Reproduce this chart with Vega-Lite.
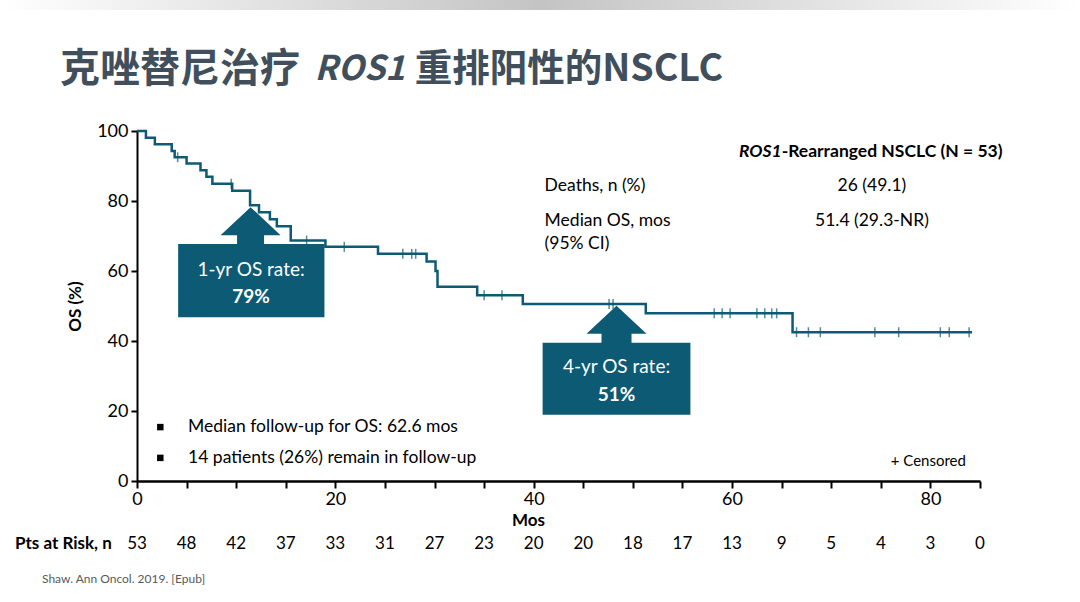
{
  "$schema": "https://vega.github.io/schema/vega-lite/v6.json",
  "width": 843,
  "height": 350,
  "autosize": {"type": "none"},
  "padding": {"left": 137, "top": 131, "right": 100, "bottom": 121},
  "background": "white",
  "config": {"view": {"stroke": null}, "font": "Lato", "text": {"font": "Lato"}},
  "datasets": {
    "km": [
      {"t": 0, "s": 100}, {"t": 0.9, "s": 98.1}, {"t": 1.8, "s": 96.2}, {"t": 3.5, "s": 94.3},
      {"t": 3.8, "s": 92.5}, {"t": 5.0, "s": 90.7}, {"t": 6.4, "s": 88.8}, {"t": 7.0, "s": 86.9},
      {"t": 7.6, "s": 84.9}, {"t": 9.6, "s": 82.9}, {"t": 11.4, "s": 78.8}, {"t": 12.3, "s": 76.8},
      {"t": 13.4, "s": 74.8}, {"t": 14.1, "s": 72.8}, {"t": 15.5, "s": 68.7}, {"t": 19.0, "s": 66.9},
      {"t": 24.3, "s": 64.9}, {"t": 29.2, "s": 62.7}, {"t": 30.1, "s": 60.0}, {"t": 30.3, "s": 55.5},
      {"t": 34.3, "s": 53.1}, {"t": 38.9, "s": 50.6}, {"t": 51.3, "s": 47.9}, {"t": 66.1, "s": 42.5},
      {"t": 84.2, "s": 42.5}
    ],
    "cens": [
      {"t": 4.1, "s": 92.5}, {"t": 9.5, "s": 84.9}, {"t": 17.1, "s": 68.7}, {"t": 20.9, "s": 66.9},
      {"t": 26.8, "s": 64.9}, {"t": 27.7, "s": 64.9}, {"t": 28.1, "s": 64.9}, {"t": 35.0, "s": 53.1},
      {"t": 36.8, "s": 53.1}, {"t": 47.6, "s": 50.6}, {"t": 48.0, "s": 50.6}, {"t": 58.2, "s": 47.9},
      {"t": 59.0, "s": 47.9}, {"t": 59.8, "s": 47.9}, {"t": 62.5, "s": 47.9}, {"t": 63.3, "s": 47.9},
      {"t": 64.0, "s": 47.9}, {"t": 64.5, "s": 47.9}, {"t": 66.5, "s": 42.5}, {"t": 67.7, "s": 42.5},
      {"t": 68.9, "s": 42.5}, {"t": 74.4, "s": 42.5}, {"t": 76.8, "s": 42.5}, {"t": 81.0, "s": 42.5},
      {"t": 81.9, "s": 42.5}, {"t": 83.9, "s": 42.5}
    ],
    "risk": [
      {"t": 0, "n": 53}, {"t": 5, "n": 48}, {"t": 10, "n": 42}, {"t": 15, "n": 37}, {"t": 20, "n": 33},
      {"t": 25, "n": 31}, {"t": 30, "n": 27}, {"t": 35, "n": 23}, {"t": 40, "n": 20}, {"t": 45, "n": 20},
      {"t": 50, "n": 18}, {"t": 55, "n": 17}, {"t": 60, "n": 13}, {"t": 65, "n": 9}, {"t": 70, "n": 5},
      {"t": 75, "n": 4}, {"t": 80, "n": 3}, {"t": 85, "n": 0}
    ]
  },
  "layer": [
    {
      "data": {"name": "km"},
      "mark": {"type": "line", "interpolate": "step-after", "color": "#0c5a73", "strokeWidth": 2.5},
      "encoding": {
        "x": {"field": "t", "type": "quantitative",
          "scale": {"domain": [0, 85], "nice": false, "zero": false},
          "axis": {"title": "Mos", "titleFontSize": 17, "titleFontWeight": "bold", "titleColor": "black",
            "titleX": 391, "titleY": 39, "titleBaseline": "middle",
            "values": [0,5,10,15,20,25,30,35,40,45,50,55,60,65,70,75,80,85],
            "labelExpr": "datum.value % 20 === 0 ? datum.label : ''",
            "labelFontSize": 18, "labelColor": "black", "labelPadding": 2, "labelFlush": false,
            "tickSize": 7, "tickWidth": 2, "tickColor": "black",
            "domainColor": "black", "domainWidth": 2.5, "grid": false}},
        "y": {"field": "s", "type": "quantitative",
          "scale": {"domain": [0, 100], "nice": false},
          "axis": {"title": "OS (%)", "titleFontSize": 17, "titleFontWeight": "bold", "titleColor": "black",
            "titleX": -62, "titleY": 175, "titleAngle": -90, "titleBaseline": "middle", "titleAlign": "center",
            "values": [0,20,40,60,80,100], "labelFontSize": 18, "labelColor": "black", "labelPadding": 3,
            "tickSize": 6, "tickWidth": 2, "tickColor": "black",
            "domainColor": "black", "domainWidth": 2, "grid": false}}
      }
    },
    {
      "data": {"name": "cens"},
      "mark": {"type": "tick", "orient": "vertical", "color": "#0c5a73", "size": 10, "thickness": 1.5},
      "encoding": {
        "x": {"field": "t", "type": "quantitative"},
        "y": {"field": "s", "type": "quantitative"}
      }
    },
    {
      "data": {"values": [{}]},
      "mark": {"type": "rect", "color": {"x1": 0, "y1": 0, "x2": 1, "y2": 0, "gradient": "linear",
        "stops": [{"offset": 0, "color": "#ffffff"}, {"offset": 0.5, "color": "#c4c4c4"}, {"offset": 1, "color": "#ffffff"}]}},
      "encoding": {
        "x": {"datum": -13.8, "type": "quantitative"},
        "x2": {"datum": 95.0},
        "y": {"datum": 137.4, "type": "quantitative"},
        "y2": {"datum": 134.6}
      }
    },
    {
      "data": {"values": [{}]},
      "mark": {"type": "rect", "color": "#0c5a73"},
      "encoding": {
        "x": {"datum": 4.15, "type": "quantitative"},
        "x2": {"datum": 18.9},
        "y": {"datum": 67.7, "type": "quantitative"},
        "y2": {"datum": 46.8}
      }
    },
    {
      "data": {"values": [{}]},
      "mark": {"type": "rect", "color": "#0c5a73"},
      "encoding": {
        "x": {"datum": 40.9, "type": "quantitative"},
        "x2": {"datum": 55.8},
        "y": {"datum": 39.5, "type": "quantitative"},
        "y2": {"datum": 18.9}
      }
    },
    {
      "data": {"values": [{}]},
      "mark": {"type": "point", "filled": true, "opacity": 1, "size": 3600, "color": "#0c5a73", "strokeWidth": 0,
        "shape": "M0,-0.6L1,0.333L0.45,0.333L0.45,0.72L-0.45,0.72L-0.45,0.333L-1,0.333Z"},
      "encoding": {
        "x": {"datum": 11.45, "type": "quantitative"},
        "y": {"datum": 73.1, "type": "quantitative"}
      }
    },
    {
      "data": {"values": [{}]},
      "mark": {"type": "point", "filled": true, "opacity": 1, "size": 3600, "color": "#0c5a73", "strokeWidth": 0,
        "shape": "M0,-0.6L1,0.333L0.5,0.333L0.5,0.72L-0.5,0.72L-0.5,0.333L-1,0.333Z"},
      "encoding": {
        "x": {"datum": 48.35, "type": "quantitative"},
        "y": {"datum": 44.9, "type": "quantitative"}
      }
    },
    {
      "data": {"values": [{}]},
      "mark": {"type": "text", "text": "1-yr OS rate:", "color": "white", "fontSize": 19, "align": "center", "baseline": "middle"},
      "encoding": {"x": {"datum": 11.5, "type": "quantitative"}, "y": {"datum": 60.3, "type": "quantitative"}}
    },
    {
      "data": {"values": [{}]},
      "mark": {"type": "text", "text": "79%", "color": "white", "fontSize": 19, "fontWeight": "bold", "align": "center", "baseline": "middle"},
      "encoding": {"x": {"datum": 11.5, "type": "quantitative"}, "y": {"datum": 52.6, "type": "quantitative"}}
    },
    {
      "data": {"values": [{}]},
      "mark": {"type": "text", "text": "4-yr OS rate:", "color": "white", "fontSize": 19, "align": "center", "baseline": "middle"},
      "encoding": {"x": {"datum": 48.35, "type": "quantitative"}, "y": {"datum": 32.6, "type": "quantitative"}}
    },
    {
      "data": {"values": [{}]},
      "mark": {"type": "text", "text": "51%", "color": "white", "fontSize": 19, "fontWeight": "bold", "align": "center", "baseline": "middle"},
      "encoding": {"x": {"datum": 48.35, "type": "quantitative"}, "y": {"datum": 24.6, "type": "quantitative"}}
    },
    {
      "data": {"values": [{}]},
      "mark": {"type": "text", "text": "ROS1", "color": "black", "fontSize": 17.5, "fontWeight": "bold", "fontStyle": "italic", "align": "right", "baseline": "middle"},
      "encoding": {"x": {"datum": 65.0, "type": "quantitative"}, "y": {"datum": 94.0, "type": "quantitative"}}
    },
    {
      "data": {"values": [{}]},
      "mark": {"type": "text", "text": "-Rearranged NSCLC (N = 53)", "color": "black", "fontSize": 17.5, "fontWeight": "bold", "align": "left", "baseline": "middle"},
      "encoding": {"x": {"datum": 65.0, "type": "quantitative"}, "y": {"datum": 94.0, "type": "quantitative"}}
    },
    {
      "data": {"values": [{"label": "Deaths, n (%)", "v": 84.3}, {"label": "Median OS, mos", "v": 74.3}, {"label": "(95% CI)", "v": 67.7}]},
      "mark": {"type": "text", "color": "black", "fontSize": 17.5, "align": "left", "baseline": "middle"},
      "encoding": {"text": {"field": "label"}, "x": {"datum": 41.1, "type": "quantitative"}, "y": {"field": "v", "type": "quantitative"}}
    },
    {
      "data": {"values": [{"label": "26 (49.1)", "v": 84.3}, {"label": "51.4 (29.3-NR)", "v": 74.3}]},
      "mark": {"type": "text", "color": "black", "fontSize": 17.5, "align": "center", "baseline": "middle"},
      "encoding": {"text": {"field": "label"}, "x": {"datum": 74.1, "type": "quantitative"}, "y": {"field": "v", "type": "quantitative"}}
    },
    {
      "data": {"values": [{"v": 15.4}, {"v": 6.6}]},
      "mark": {"type": "point", "shape": "square", "filled": true, "opacity": 1, "color": "black", "size": 42},
      "encoding": {"x": {"datum": 2.35, "type": "quantitative"}, "y": {"field": "v", "type": "quantitative"}}
    },
    {
      "data": {"values": [{"label": "Median follow-up for OS: 62.6 mos", "v": 15.4}, {"label": "14 patients (26%) remain in follow-up", "v": 6.6}]},
      "mark": {"type": "text", "color": "black", "fontSize": 17.5, "align": "left", "baseline": "middle"},
      "encoding": {"text": {"field": "label"}, "x": {"datum": 5.15, "type": "quantitative"}, "y": {"field": "v", "type": "quantitative"}}
    },
    {
      "data": {"values": [{}]},
      "mark": {"type": "text", "text": "+ Censored", "color": "black", "fontSize": 15, "align": "left", "baseline": "middle"},
      "encoding": {"x": {"datum": 76.0, "type": "quantitative"}, "y": {"datum": 5.7, "type": "quantitative"}}
    },
    {
      "data": {"name": "risk"},
      "mark": {"type": "text", "color": "black", "fontSize": 17, "align": "center", "baseline": "middle"},
      "encoding": {"text": {"field": "n"}, "x": {"field": "t", "type": "quantitative"}, "y": {"datum": -18, "type": "quantitative"}}
    },
    {
      "data": {"values": [{}]},
      "mark": {"type": "text", "text": "Pts at Risk, n", "color": "black", "fontSize": 17, "fontWeight": "bold", "align": "left", "baseline": "middle"},
      "encoding": {"x": {"datum": -12.3, "type": "quantitative"}, "y": {"datum": -18, "type": "quantitative"}}
    },
    {
      "data": {"values": [{}]},
      "mark": {"type": "text", "text": "Shaw. Ann Oncol. 2019. [Epub]", "color": "#595959", "fontSize": 12, "align": "left", "baseline": "middle"},
      "encoding": {"x": {"datum": -9.58, "type": "quantitative"}, "y": {"datum": -28, "type": "quantitative"}}
    },
    {
      "data": {"values": [{}]},
      "mark": {"type": "text", "text": "克唑替尼治疗", "color": "#404f5b", "font": "Noto Sans CJK SC", "fontSize": 40, "fontWeight": "bold", "align": "left", "baseline": "middle"},
      "encoding": {"x": {"datum": -7.76, "type": "quantitative"}, "y": {"datum": 117.5, "type": "quantitative"}}
    },
    {
      "data": {"values": [{}]},
      "mark": {"type": "text", "text": "ROS1", "color": "#404f5b", "font": "Noto Sans CJK SC", "fontSize": 34, "fontWeight": "bold", "fontStyle": "italic", "align": "left", "baseline": "middle"},
      "encoding": {"x": {"datum": 17.9, "type": "quantitative"}, "y": {"datum": 117.5, "type": "quantitative"}}
    },
    {
      "data": {"values": [{}]},
      "mark": {"type": "text", "text": "重排阳性的NSCLC", "color": "#404f5b", "font": "Noto Sans CJK SC", "fontSize": 37.5, "fontWeight": "bold", "align": "left", "baseline": "middle"},
      "encoding": {"x": {"datum": 28.0, "type": "quantitative"}, "y": {"datum": 117.5, "type": "quantitative"}}
    }
  ]
}
